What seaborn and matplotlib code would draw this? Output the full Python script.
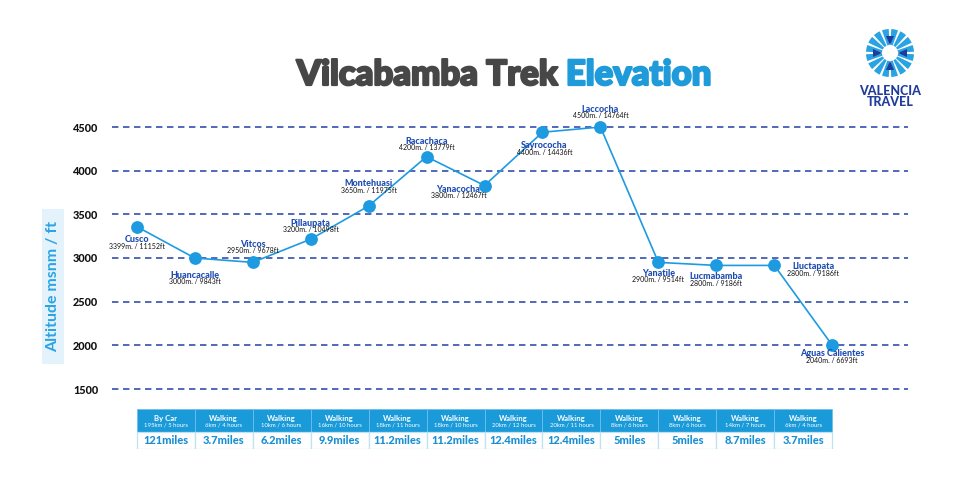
import numpy as np
import pandas as pd
import matplotlib
matplotlib.use("Agg")
import matplotlib.pyplot as plt
import matplotlib.patheffects as pe
import seaborn as sns
from matplotlib.patches import Rectangle, Wedge, Polygon

# ---------------- data ----------------
stops = ["Cusco", "Huancacalle", "Vitcos", "Pillaupata", "Montehuasi", "Racachaca",
         "Yanacocha", "Sayrococha", "Laccocha", "Yanatile", "Lucmabamba",
         "Lluctapata", "Aguas Calientes"]
altitude = [3360, 3000, 2950, 3215, 3595, 4160, 3830, 4440, 4500, 2950, 2915, 2915, 2000]
alt_labels = ["3399m. / 11152ft", "3000m. / 9843ft", "2950m. / 9678ft", "3200m. / 10498ft",
              "3650m. / 11975ft", "4200m. / 13779ft", "3800m. / 12467ft", "4400m. / 14436ft",
              "4500m. / 14764ft", "2900m. / 9514ft", "2800m. / 9186ft", "2800m. / 9186ft",
              "2040m. / 6693ft"]
yticks = [1500, 2000, 2500, 3000, 3500, 4000, 4500]
leg_mode = ["By Car"] + ["Walking"] * 11
leg_detail = ["195km / 5 hours", "6km / 4 hours", "10km / 6 hours", "16km / 10 hours",
              "18km / 11 hours", "18km / 10 hours", "20km / 12 hours", "20km / 11 hours",
              "8km / 6 hours", "8km / 6 hours", "14km / 7 hours", "6km / 4 hours"]
leg_miles = ["121miles", "3.7miles", "6.2miles", "9.9miles", "11.2miles", "11.2miles",
             "12.4miles", "12.4miles", "5miles", "5miles", "8.7miles", "3.7miles"]

# label placement (pixel offsets of the name from the point; +y = down)
label_off = [(0, 13), (0, 17.5), (0, -18), (0, -16), (0, -22.5), (0, -15.5), (-26, 3.5),
             (2, 13.5), (0, -17.5), (0, 11), (0, 11.5), (39, 1.5), (0, 8.5)]

# ---------------- style ----------------
sns.set_theme(style="white")
plt.rcParams["font.family"] = ["Lato", "DejaVu Sans"]

BLUE = "#1e9be0"
NAVY = "#2140a6"
NAME = "#1d4cb3"
HEAD = "#1a9ad8"

W, H = 971, 501
fig = plt.figure(figsize=(W / 100, H / 100), dpi=100)

def fx(px):
    return px / W

def fy(py):
    return (H - py) / H

x0px, x1px = 112, 908
p0, p12 = 136.7, 832.3
unit = (p12 - p0) / 12
xlim = (-(p0 - x0px) / unit, 12 + (x1px - p12) / unit)

ax = fig.add_axes([fx(x0px), fy(389), fx(x1px - x0px), (389 - 127) / H])
ax.set_xlim(*xlim)
ax.set_ylim(1500, 4500)
for s in ax.spines.values():
    s.set_visible(False)
for t in yticks:
    ax.axhline(t, color=NAVY, lw=1.1, linestyle=(0, (4.2, 3.0)), zorder=1, clip_on=False)
ax.set_yticks(yticks)
ax.set_yticklabels([str(t) for t in yticks], fontsize=7.8, fontweight="black", color="#111111")
ax.tick_params(axis="y", length=0, pad=10)
ax.set_xticks([])

df = pd.DataFrame({"idx": np.arange(len(stops)), "alt": altitude, "stop": stops})
sns.lineplot(data=df, x="idx", y="alt", ax=ax, color=BLUE, lw=1.2, zorder=3)
sns.scatterplot(data=df, x="idx", y="alt", ax=ax, color=BLUE, s=85, linewidth=0, zorder=4,
                clip_on=False)
ax.set_xlabel("")
ax.set_ylabel("")

for i, (name, lab) in enumerate(zip(stops, alt_labels)):
    dx, dy = label_off[i]
    ax.annotate(name, (i, altitude[i]), xytext=(dx, -dy), textcoords="offset pixels",
                ha="center", va="center", fontsize=6.5, fontweight="black", color=NAME,
                zorder=5, annotation_clip=False)
    ax.annotate(lab, (i, altitude[i]), xytext=(dx, -dy - 6.5), textcoords="offset pixels",
                ha="center", va="center", fontsize=5, color="#111111", zorder=5,
                annotation_clip=False)

# ---------------- table ----------------
tax = fig.add_axes([fx(x0px), fy(449), fx(x1px - x0px), 40 / H])
tax.set_xlim(*xlim)
tax.set_ylim(40, 0)
tax.axis("off")
for i in range(len(leg_miles)):
    tax.add_patch(Rectangle((i, 0), 1, 23, fc=HEAD, ec="#6cc0ec", lw=0.6))
    tax.add_patch(Rectangle((i, 23), 1, 17, fc="white", ec="#bfe1f4", lw=0.9))
    tax.text(i + 0.5, 9.3, leg_mode[i], ha="center", va="center", fontsize=5.6,
             fontweight="bold", color="white")
    tax.text(i + 0.5, 16, leg_detail[i], ha="center", va="center", fontsize=4.3,
             color="white")
    tax.text(i + 0.5, 31.5, leg_miles[i], ha="center", va="center", fontsize=8,
             fontweight="black", color="#1a8fd2")

# ---------------- y label box ----------------
fig.patches.append(Rectangle((fx(42), fy(364)), fx(22), 155 / H, transform=fig.transFigure,
                             fc="#e4f2fb", ec="none"))
fig.text(fx(53), fy(286.5), "Altitude msnm / ft", rotation=90, ha="center", va="center",
         fontsize=11.5, fontweight="bold", color="#2aa4e3")

# ---------------- title ----------------
fig.canvas.draw()
r = fig.canvas.get_renderer()
t1 = fig.text(0, fy(85), "Vilcabamba Trek ", fontsize=25, fontweight="black",
              color="#474747", ha="left", va="baseline",
              path_effects=[pe.withStroke(linewidth=1.6, foreground="#474747")])
t2 = fig.text(0, fy(85), "Elevation", fontsize=25, fontweight="black",
              color="#1f9bd9", ha="left", va="baseline",
              path_effects=[pe.withStroke(linewidth=1.6, foreground="#1f9bd9")])
w1 = t1.get_window_extent(r).width
w2 = t2.get_window_extent(r).width
start = 504 - (w1 + w2) / 2
t1.set_x(fx(start))
t2.set_x(fx(start + w1))

# ---------------- logo ----------------
lax = fig.add_axes([fx(890 - 30), fy(53 + 30), fx(60), 60 / H])
lax.set_xlim(-30, 30)
lax.set_ylim(-30, 30)
lax.axis("off")
for k in range(16):
    a0 = k * 22.5 + 3
    lax.add_patch(Wedge((0, 0), 24, a0, a0 + 16.5, width=16, fc="#2aa3e2", ec="none"))
for k in range(4):
    ang = np.deg2rad(k * 90 + 90)
    c, s_ = np.cos(ang), np.sin(ang)
    tip = (8 * c, 8 * s_)
    b1 = (17 * c - 4 * s_, 17 * s_ + 4 * c)
    b2 = (17 * c + 4 * s_, 17 * s_ - 4 * c)
    lax.add_patch(Polygon([tip, b1, b2], fc="#1f3c9c", ec="none"))
fig.text(fx(890), fy(91), "VALENCIA", ha="center", va="center", fontsize=9,
         fontweight="black", color="#1f3c9c")
fig.text(fx(890), fy(102), "TRAVEL", ha="center", va="center", fontsize=9,
         fontweight="black", color="#1f3c9c")

fig.savefig("out.png", dpi=100, facecolor="white")
